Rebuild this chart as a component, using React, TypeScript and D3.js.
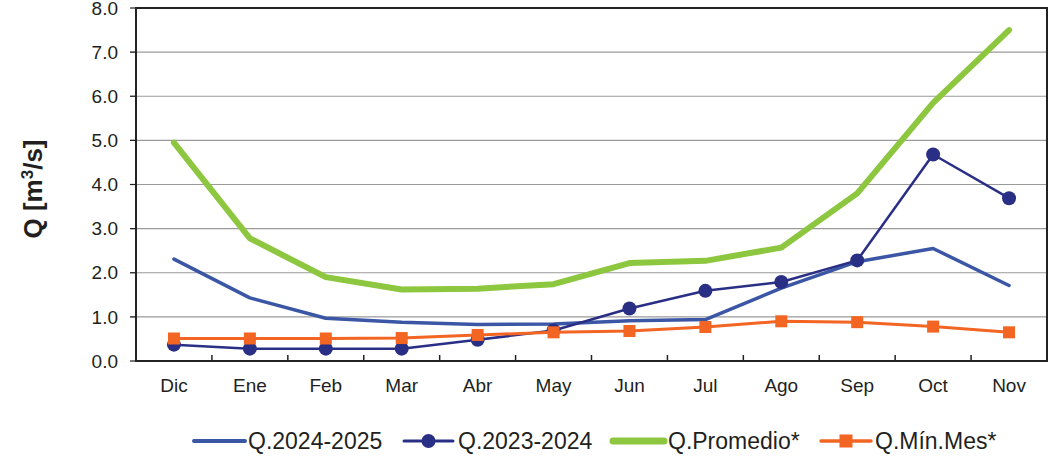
import React from "react";
import * as d3 from "d3";

const months = ["Dic", "Ene", "Feb", "Mar", "Abr", "May", "Jun", "Jul", "Ago", "Sep", "Oct", "Nov"];
const q2024_2025 = [2.31, 1.43, 0.97, 0.88, 0.83, 0.84, 0.91, 0.94, 1.65, 2.25, 2.55, 1.71];
const q2023_2024 = [0.37, 0.28, 0.28, 0.28, 0.48, 0.69, 1.19, 1.59, 1.79, 2.28, 4.68, 3.69];
const qPromedio = [4.95, 2.78, 1.9, 1.62, 1.64, 1.74, 2.22, 2.27, 2.57, 3.8, 5.85, 7.5];
const qMinMes = [0.51, 0.51, 0.51, 0.52, 0.59, 0.65, 0.68, 0.77, 0.9, 0.88, 0.78, 0.65];
const yTicks = [0, 1, 2, 3, 4, 5, 6, 7, 8];
const seriesNames = ["Q.2024-2025", "Q.2023-2024", "Q.Promedio*", "Q.Mín.Mes*"];

const W = 1055;
const H = 457;
const M = { left: 136, top: 8, right: 1047, bottom: 361 };

export default function App() {
  const x = d3.scaleBand<string>().domain(months).range([M.left, M.right]);
  const y = d3.scaleLinear().domain([0, 8]).range([M.bottom, M.top]);
  const cx = (m: string) => (x(m) as number) + x.bandwidth() / 2;
  const line = d3
    .line<number>()
    .x((_, i) => cx(months[i]))
    .y((d) => y(d));

  const font = "'Liberation Sans', Arial, sans-serif";
  const boundaries = months.slice(1).map((m) => x(m) as number);

  const legend = [
    { name: seriesNames[0], color: "#3a56a5", w: 4, x0: 194, x1: 245, tx: 248, marker: "none" },
    { name: seriesNames[1], color: "#2a2f86", w: 3, x0: 404, x1: 453, tx: 458, marker: "circle" },
    { name: seriesNames[2], color: "#8dc63f", w: 7, x0: 613, x1: 664, tx: 668, marker: "none" },
    { name: seriesNames[3], color: "#f26522", w: 3.5, x0: 821, x1: 871, tx: 875, marker: "square" },
  ];
  const ly = 441;

  return (
    <svg
      width={W}
      height={H}
      style={{ position: "absolute", left: 0, top: 0, display: "block", background: "#fff" }}
    >
      {/* gridlines */}
      {yTicks.slice(1, -1).map((t) => (
        <line key={t} x1={M.left - 6} x2={M.right} y1={y(t)} y2={y(t)} stroke="#9a9a9a" strokeWidth={1.2} />
      ))}
      {yTicks.map((t) => (
        <line key={"tk" + t} x1={M.left - 6} x2={M.left} y1={y(t)} y2={y(t)} stroke="#222" strokeWidth={1.2} />
      ))}
      {/* bottom ticks inside */}
      {boundaries.map((b, i) => (
        <line key={"b" + i} x1={b} x2={b} y1={M.bottom} y2={M.bottom - 6} stroke="#222" strokeWidth={1.5} />
      ))}
      {/* frame */}
      <rect x={M.left} y={M.top} width={M.right - M.left} height={M.bottom - M.top} fill="none" stroke="#222" strokeWidth={2} />

      {/* y tick labels */}
      {yTicks.map((t) => (
        <text
          key={"yl" + t}
          x={118}
          y={y(t)}
          dy="0.35em"
          textAnchor="end"
          fontFamily={font}
          fontSize={19}
          fill="#231f20"
        >
          {t.toFixed(1)}
        </text>
      ))}
      {/* x labels */}
      {months.map((m) => (
        <text key={m} x={cx(m)} y={392} textAnchor="middle" fontFamily={font} fontSize={19} fill="#231f20">
          {m}
        </text>
      ))}
      {/* y axis title */}
      <text
        transform={`translate(42,189) rotate(-90)`}
        textAnchor="middle"
        fontFamily={font}
        fontSize={26}
        fontWeight="bold"
        fill="#231f20"
      >
        Q [m<tspan dy="-9" fontSize={17}>3</tspan>
        <tspan dy="9">/s]</tspan>
      </text>

      {/* series */}
      <path d={line(q2024_2025) || ""} fill="none" stroke="#3a56a5" strokeWidth={3.5} strokeLinejoin="round" strokeLinecap="round" />
      <path d={line(q2023_2024) || ""} fill="none" stroke="#2a2f86" strokeWidth={2.5} strokeLinejoin="round" />
      {q2023_2024.map((v, i) => (
        <circle key={"c" + i} cx={cx(months[i])} cy={y(v)} r={7} fill="#2a2f86" />
      ))}
      <path d={line(qPromedio) || ""} fill="none" stroke="#8dc63f" strokeWidth={6} strokeLinejoin="round" strokeLinecap="round" />
      <path d={line(qMinMes) || ""} fill="none" stroke="#f26522" strokeWidth={3} strokeLinejoin="round" />
      {qMinMes.map((v, i) => (
        <rect key={"s" + i} x={cx(months[i]) - 6} y={y(v) - 6} width={12} height={12} fill="#f26522" />
      ))}

      {/* legend */}
      {legend.map((l) => (
        <g key={l.name}>
          <line x1={l.x0} x2={l.x1} y1={ly} y2={ly} stroke={l.color} strokeWidth={l.w} strokeLinecap="round" />
          {l.marker === "circle" && <circle cx={(l.x0 + l.x1) / 2} cy={ly} r={7} fill={l.color} />}
          {l.marker === "square" && (
            <rect x={(l.x0 + l.x1) / 2 - 6.5} y={ly - 6.5} width={13} height={13} fill={l.color} />
          )}
          <text x={l.tx} y={ly + 8} fontFamily={font} fontSize={23} fill="#231f20">
            {l.name}
          </text>
        </g>
      ))}
    </svg>
  );
}
